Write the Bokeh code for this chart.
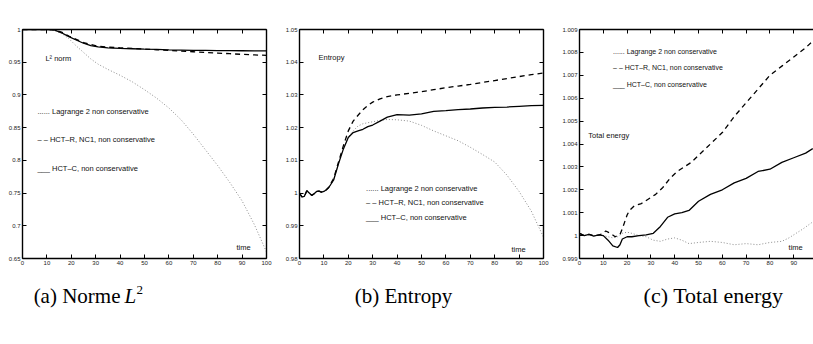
from bokeh.plotting import figure
from bokeh.layouts import column, row
from bokeh.models import Range1d, LinearAxis, FixedTicker, Label, PrintfTickFormatter
from bokeh.core.properties import value
from bokeh.embed import file_html
from bokeh.resources import INLINE

# ---------------- data ----------------
x_ticks = [0, 10, 20, 30, 40, 50, 60, 70, 80, 90, 100]

# (a) L2 norm
t_a = [0, 5, 10, 13, 16, 19, 22, 25, 28, 31, 35, 40, 45, 50, 55, 60, 65, 70, 75, 80, 85, 90, 95, 100]
a_lagrange = [1, 1, 1, 0.9985, 0.994, 0.986, 0.975, 0.965, 0.955, 0.947, 0.939, 0.930, 0.920, 0.908,
              0.895, 0.880, 0.862, 0.840, 0.816, 0.792, 0.766, 0.738, 0.702, 0.660]
a_hctr = [1, 1, 1, 0.9995, 0.996, 0.990, 0.985, 0.980, 0.977, 0.9745, 0.973, 0.972, 0.971, 0.970,
          0.969, 0.968, 0.967, 0.966, 0.965, 0.964, 0.963, 0.962, 0.9612, 0.9605]
a_hctc = [1, 1, 1, 0.9993, 0.995, 0.989, 0.984, 0.979, 0.9755, 0.9733, 0.972, 0.9712, 0.9706, 0.970,
          0.9695, 0.969, 0.9686, 0.9682, 0.968, 0.9678, 0.9676, 0.9675, 0.9674, 0.9674]
a_yticks = [0.65, 0.7, 0.75, 0.8, 0.85, 0.9, 0.95, 1.0]

# (b) Entropy
t_b = [0, 1, 2, 3, 4, 5, 6, 7, 8, 9, 10, 11, 12, 14, 16, 18, 20, 22, 24, 26, 28, 30, 33, 36, 40,
       45, 50, 55, 60, 65, 70, 75, 80, 85, 90, 95, 100]
b_lagrange = [1.0, 0.9988, 0.999, 1.0007, 1.0, 0.9993, 0.9998, 1.0005, 1.0006, 1.0003, 1.0005, 1.001,
              1.0017, 1.004, 1.009, 1.0135, 1.0172, 1.019, 1.0205, 1.0212, 1.0215, 1.0218, 1.0222,
              1.0225, 1.0224, 1.022, 1.0207, 1.019, 1.0175, 1.016, 1.014, 1.0118, 1.0095, 1.0055,
              1.0005, 0.9945, 0.9865]
b_hctr = [1.0, 0.9988, 0.999, 1.0007, 1.0, 0.9993, 0.9998, 1.0005, 1.0006, 1.0003, 1.0005, 1.001,
          1.0018, 1.0045, 1.0095, 1.0145, 1.019, 1.022, 1.0238, 1.0255, 1.0268, 1.0278, 1.0288,
          1.0295, 1.0300, 1.0305, 1.031, 1.0316, 1.0322, 1.0327, 1.0332, 1.0338, 1.0344, 1.035,
          1.0356, 1.0362, 1.0367]
b_hctc = [1.0, 0.9988, 0.999, 1.0007, 1.0, 0.9993, 0.9998, 1.0005, 1.0006, 1.0003, 1.0005, 1.001,
          1.0017, 1.004, 1.009, 1.0135, 1.017, 1.0185, 1.019, 1.0195, 1.0203, 1.0208, 1.022,
          1.0232, 1.024, 1.0238, 1.0242, 1.025, 1.0252, 1.0255, 1.0257, 1.026, 1.0262, 1.0263,
          1.0265, 1.0267, 1.0268]
b_yticks = [0.98, 0.99, 1.0, 1.01, 1.02, 1.03, 1.04, 1.05]

# (c) Total energy
t_c_lag = [0, 2, 4, 6, 8, 10, 12, 14, 16, 18, 20, 22, 25, 28, 31, 34, 37, 40, 43, 46, 50, 55, 60,
           65, 70, 75, 80, 85, 88, 91, 94, 98]
c_lagrange = [1.0001, 1.0, 1.00005, 1.0, 1.00003, 1.0, 0.99995, 0.9999, 0.99995, 1.0001, 1.00015,
              1.0001, 1.0, 0.99995, 0.9998, 0.99975, 0.99985, 0.9999, 0.9998, 0.99965, 0.9997,
              0.99975, 0.9997, 0.9996, 0.99965, 0.9996, 0.9997, 0.99975, 0.9999, 1.0001, 1.0003, 1.0006]
t_c_r = [0, 2, 4, 6, 8, 10, 11, 13, 15, 17, 18, 19, 20, 21, 23, 26, 29, 32, 35, 38, 41, 44, 47, 50,
         55, 60, 65, 70, 75, 80, 85, 90, 95, 98]
c_hctr = [1.0001, 1.0, 1.00005, 1.0, 1.00002, 1.0001, 1.0002, 1.0001, 0.99995, 1.00005, 1.0003,
          1.0006, 1.0009, 1.0011, 1.0013, 1.0014, 1.0016, 1.0018, 1.0021, 1.0025, 1.0028, 1.003,
          1.0032, 1.0035, 1.004, 1.0045, 1.0052, 1.0058, 1.0064, 1.007, 1.0074, 1.0078, 1.0082, 1.0085]
t_c_c = [0, 2, 4, 6, 8, 10, 12, 14, 16, 17, 18, 20, 22, 25, 28, 31, 34, 37, 40, 43, 46, 50, 55, 60,
         65, 70, 75, 80, 85, 90, 95, 98]
c_hctc = [1.0001, 1.0, 1.00005, 0.99998, 1.00003, 1.0, 0.9998, 0.99955, 0.99948, 0.9996, 0.99985,
          0.99995, 0.99995, 1.0, 1.00003, 1.0001, 1.0004, 1.0008, 1.00095, 1.001, 1.0011, 1.0015,
          1.0018, 1.002, 1.0023, 1.0025, 1.0028, 1.0029, 1.0032, 1.0034, 1.0036, 1.0038]
c_yticks = [0.999, 1.0, 1.001, 1.002, 1.003, 1.004, 1.005, 1.006, 1.007, 1.008, 1.009]

captions = ["(b) Entropy", "(c) Total energy"]

SANS = "Liberation Sans"
SERIF = "Liberation Serif"


def make_panel(width, height, bl, br, bt, bb, xend, ylo, yhi, yticks, right_axis=True):
    p = figure(width=width, height=height, x_range=Range1d(0, xend), y_range=Range1d(ylo, yhi),
               output_backend="svg", toolbar_location=None,
               min_border_left=bl, min_border_right=br, min_border_top=bt, min_border_bottom=bb)
    p.xgrid.visible = False
    p.ygrid.visible = False
    p.outline_line_color = None
    p.xaxis.ticker = FixedTicker(ticks=x_ticks)
    p.yaxis.ticker = FixedTicker(ticks=yticks)
    p.yaxis.formatter = PrintfTickFormatter(format="%g")
    axes = list(p.xaxis) + list(p.yaxis)
    top = LinearAxis(ticker=FixedTicker(ticks=x_ticks))
    p.add_layout(top, "above")
    axes.append(top)
    extra = [top]
    if right_axis:
        rt = LinearAxis(ticker=FixedTicker(ticks=yticks))
        p.add_layout(rt, "right")
        axes.append(rt)
        extra.append(rt)
    for ax in axes:
        ax.axis_line_color = "black"
        ax.axis_line_width = 1.4
        ax.major_tick_in = 4
        ax.major_tick_out = 0
        ax.major_tick_line_color = "black"
        ax.major_tick_line_width = 1
        ax.minor_tick_line_color = None
        ax.major_label_text_font = SANS
        ax.major_label_text_font_size = "6px"
        ax.major_label_text_color = "#222222"
        ax.major_label_standoff = 2
    for ax in extra:
        # tick marks only, no labels on the top / right edges of the box
        ax.major_label_text_font_size = "2px"
        ax.major_label_text_color = None
        ax.major_label_standoff = 0
    return p


def draw(p, tl, yl, tr, yr, tc, yc):
    p.line(tl, yl, line_color="#8c8c8c", line_width=1, line_dash="1 2")
    p.line(tr, yr, line_color="black", line_width=1.3, line_dash="5 4")
    p.line(tc, yc, line_color="black", line_width=1.3)


def lab(p, x, y, text, size="7.5px", align="left"):
    p.add_layout(Label(x=x, y=y, text=text, text_font=SANS, text_font_size=size,
                       text_baseline="middle", text_align=align, text_color="#111111"))


# (a)
pa = make_panel(282, 270, 22, 16, 12, 11, 100, 0.65, 1.0, a_yticks)
draw(pa, t_a, a_lagrange, t_a, a_hctr, t_a, a_hctc)
lab(pa, 9.4, 0.956, "L² norm")
lab(pa, 6.1, 0.875, "...... Lagrange 2 non conservative")
lab(pa, 6.1, 0.8314, "– – HCT–R, NC1, non conservative")
lab(pa, 6.1, 0.7875, "___ HCT–C, non conservative")
lab(pa, 90.6, 0.667, "time", align="center")

# (b)
pb = make_panel(277, 270, 16, 16, 29, 12, 100, 0.98, 1.05, b_yticks)
draw(pb, t_b, b_lagrange, t_b, b_hctr, t_b, b_hctc)
lab(pb, 7.8, 1.0414, "Entropy")
lab(pb, 27.3, 1.0014, "...... Lagrange 2  non conservative")
lab(pb, 27.3, 0.9971, "– – HCT–R, NC1, non conservative")
lab(pb, 27.3, 0.9925, "___ HCT–C, non conservative")
lab(pb, 89.8, 0.9828, "time", align="center")

# (c)
pc = make_panel(254, 270, 17, 0, 12, 11, 98.3, 0.999, 1.009, c_yticks, right_axis=False)
draw(pc, t_c_lag, c_lagrange, t_c_r, c_hctr, t_c_c, c_hctc)
lab(pc, 14.1, 1.00803, "...... Lagrange 2  non conservative", size="7px")
lab(pc, 14.1, 1.00734, "– – HCT–R, NC1,  non conservative", size="7px")
lab(pc, 14.1, 1.00661, "___ HCT–C,  non conservative", size="7px")
lab(pc, 3.7, 1.00438, "Total energy")
lab(pc, 90.8, 0.99949, "time", align="center")

# captions
cap = figure(width=813, height=74, x_range=Range1d(0, 813), y_range=Range1d(74, 0),
             output_backend="svg", toolbar_location=None,
             min_border_left=0, min_border_right=0, min_border_top=0, min_border_bottom=0)
cap.axis.visible = False
cap.grid.visible = False
cap.outline_line_color = None
cap.text(x=[120], y=[25], text=["(a) Norme"], text_font=value(SERIF), text_font_size="21px",
         text_align="right", text_baseline="middle", text_color="black")
cap.text(x=[124], y=[25], text=["L"], text_font=value(SERIF), text_font_size="21px",
         text_font_style="italic", text_align="left", text_baseline="middle", text_color="black")
cap.text(x=[136], y=[19], text=["2"], text_font=value(SERIF), text_font_size="13px",
         text_align="left", text_baseline="middle", text_color="black")
cap.text(x=[403], y=[25], text=[captions[0]], text_font=value(SERIF), text_font_size="21px",
         text_align="center", text_baseline="middle", text_color="black")
cap.text(x=[713], y=[25], text=[captions[1]], text_font=value(SERIF), text_font_size="22px",
         text_align="center", text_baseline="middle", text_color="black")

layout = column(row(pa, pb, pc), cap)
open("out.html", "w").write(file_html(layout, INLINE))
